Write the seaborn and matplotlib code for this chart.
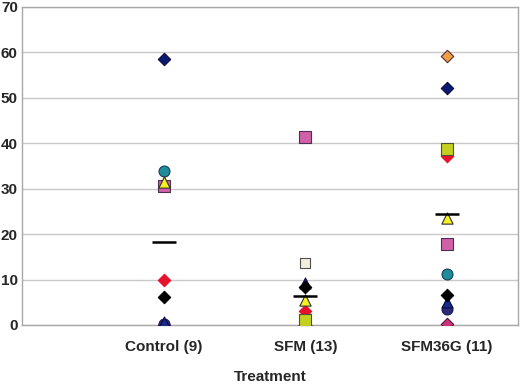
import matplotlib
matplotlib.use("Agg")
import matplotlib.pyplot as plt
import seaborn as sns
import pandas as pd
import numpy as np

# ---- data ----
treatments = ["Control (9)", "SFM (13)", "SFM36G (11)"]
x_axis_title = "Treatment"
y_ticks = [0, 10, 20, 30, 40, 50, 60, 70]

# one list per subject series: values for Control, SFM, SFM36G (nan = absent)
pink_diamond   = [0.0, 0.0, 0.3]
orange_diamond = [np.nan, 0.0, 59.3]
teal_circle    = [34.0, 0.0, 11.2]
navy_circle    = [0.2, 0.0, 3.6]
navy_triangle  = [0.6, 9.2, 5.0]
black_diamond  = [6.1, 8.4, 6.7]
cream_square   = [np.nan, 13.7, np.nan]
navy_diamond   = [58.6, 0.0, 52.1]
red_diamond    = [10.0, 3.1, 37.1]
pink_square    = [30.6, 41.3, 17.8]
yellow_triangle = [31.4, 5.4, 23.6]
lime_square    = [np.nan, 1.2, 38.8]

group_means = [18.3, 6.4, 24.5]

series_values = {
    "pink_diamond": pink_diamond,
    "orange_diamond": orange_diamond,
    "teal_circle": teal_circle,
    "navy_circle": navy_circle,
    "navy_triangle": navy_triangle,
    "black_diamond": black_diamond,
    "cream_square": cream_square,
    "navy_diamond": navy_diamond,
    "red_diamond": red_diamond,
    "pink_square": pink_square,
    "yellow_triangle": yellow_triangle,
    "lime_square": lime_square,
}

# ---- styles ----
styles = {
    "pink_diamond":   dict(marker="D", color="#C8357A", edge="#5A1030", s=40),
    "orange_diamond": dict(marker="D", color="#F0A040", edge="#5A2A40", s=40),
    "teal_circle":    dict(marker="o", color="#1F8C9C", edge="#153F55", s=62),
    "navy_circle":    dict(marker="o", color="#2A2A78", edge="#1A1A50", s=62),
    "navy_triangle":  dict(marker="^", color="#1A2A8A", edge="#0A0A40", s=62),
    "black_diamond":  dict(marker="D", color="#000000", edge="#000000", s=40),
    "cream_square":   dict(marker="s", color="#F2F0DC", edge="#505050", s=62),
    "navy_diamond":   dict(marker="D", color="#0A1A70", edge="#0A0A40", s=40),
    "red_diamond":    dict(marker="D", color="#E8102A", edge="#E8102A", s=40),
    "pink_square":    dict(marker="s", color="#D060A8", edge="#503050", s=66),
    "yellow_triangle": dict(marker="^", color="#F8F020", edge="#303030", s=66),
    "lime_square":    dict(marker="s", color="#C4D020", edge="#505030", s=66),
}

x_pos = [1, 2, 3]

sns.set_theme(style="white")
plt.rcParams["font.family"] = ["Liberation Sans", "DejaVu Sans"]

fig = plt.figure(figsize=(5.2, 3.86), dpi=100)
ax = fig.add_axes([22 / 520, (386 - 325) / 386, (518 - 22) / 520, (325 - 7) / 386])

for name, vals in series_values.items():
    st = styles[name]
    df = pd.DataFrame({"x": x_pos, "y": vals}).dropna()
    sns.scatterplot(data=df, x="x", y="y", ax=ax, marker=st["marker"],
                    color=st["color"], edgecolor=st["edge"], linewidth=0.8,
                    s=st["s"], zorder=3, legend=False)

mean_df = pd.DataFrame({"x": x_pos, "mean": group_means})
half = 0.085
ax.hlines(mean_df["mean"], mean_df["x"] - half, mean_df["x"] + half,
          colors="black", linewidth=1.8, zorder=4)

ax.set_xlim(0, 3.5)
ax.set_ylim(0, 70)
ax.set_yticks(y_ticks)
ax.set_yticklabels([str(v) for v in y_ticks], fontsize=11, fontweight="bold")
ax.set_xticks(x_pos)
ax.set_xticklabels(treatments, fontsize=11, fontweight="bold")
ax.tick_params(axis="x", length=0, pad=11)
ax.tick_params(axis="y", length=0, pad=3)
ax.set_xlabel(x_axis_title, fontsize=11, fontweight="bold", labelpad=11)
ax.set_ylabel("")

ax.yaxis.grid(True, color="#C8C8C8", linewidth=1)
ax.xaxis.grid(False)
ax.set_axisbelow(True)
for sp in ax.spines.values():
    sp.set_color("#A8A8A8")
    sp.set_linewidth(1)

fig.savefig("out.png", dpi=100)
